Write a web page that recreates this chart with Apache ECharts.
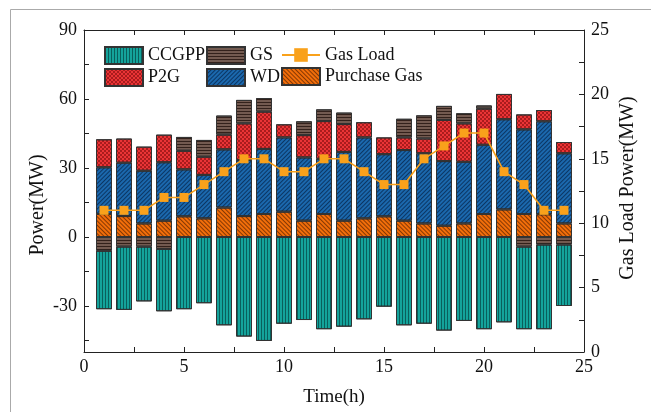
<!DOCTYPE html>
<html>
<head>
<meta charset="utf-8">
<script src="https://cdn.jsdelivr.net/npm/echarts@6/dist/echarts.min.js"></script>
<style>html,body{margin:0;padding:0;background:#fff}#c{width:651px;height:412px}</style>
</head>
<body>
<div id="c"></div>
<script>
const hours = [1,2,3,4,5,6,7,8,9,10,11,12,13,14,15,16,17,18,19,20,21,22,23,24];
const purchaseGas = [10,9.1,5.9,7.1,9,8.1,12.8,9.1,10,11,7.1,10,7.1,8.1,9,7.1,5.9,4.9,5.9,10,12,10,9.9,5.9];
const wd = [20.3,23.2,22.9,25.4,20.4,18.9,25.3,24.4,28.3,32.3,27.5,24.0,29.9,35.2,27.0,30.7,30.5,28.1,26.8,30.1,39.2,36.8,40.4,30.5];
const p2g = [12.2,10.5,10.5,12.0,8.1,7.9,6.4,15.9,16.2,5.7,9.7,16.4,12.1,6.6,7.3,5.5,6.4,17.9,16.7,15.7,11.0,6.5,4.9,4.9];
const gs = [-6,-4.2,-4.2,-5.2,6.0,7.3,8.3,10.2,5.9,0,6.0,5.1,5.0,0,0,8.1,10.1,6.1,4.4,1.4,0,-4.2,-3.3,-3.3];
const ccgpp = [-25.4,-27.5,-23.8,-27.1,-31.4,-28.8,-38.4,-43.3,-45.2,-37.7,-36.1,-40.1,-39.0,-35.8,-30.3,-38.4,-37.7,-40.7,-36.5,-40.1,-37.1,-35.9,-36.8,-26.7];
const gasLoad = [11,11,11,12,12,13,14,15,15,14,14,15,15,14,13,13,15,16,17,17,14,13,11,11];
const xLabels = [0,5,10,15,20,25];
const xTicks = [0,2.5,5,7.5,10,12.5,15,17.5,20,22.5,25];
const yLabels = [-30,0,30,60,90];
const yTicks = [-45,-30,-15,0,15,30,45,60,75,90];
const y2Ticks = [0,2.5,5,7.5,10,12.5,15,17.5,20,22.5,25];

const FONT = "Liberation Serif";
// category slots 0..25 so each hour sits on its tick of the value axis
const slots = [0].concat(hours, [25]).map(String);
const pad = arr => [null].concat(arr, [null]);
const gsPos = gs.map(v => v > 0 ? v : null);
const gsNeg = gs.map(v => v < 0 ? v : null);

const border = {borderColor:'#333', borderWidth:1};
const decals = {
  ccgpp: {symbol:'rect', symbolSize:1, dashArrayX:[1,2], dashArrayY:[4,0], color:'rgba(0,40,40,0.55)'},
  gs: {symbol:'rect', symbolSize:1, dashArrayX:[4,0], dashArrayY:[1,2], color:'rgba(30,15,10,0.75)'},
  p2g: {symbol:'rect', symbolSize:1, dashArrayX:[[2,2],[0,2,2,0]], dashArrayY:[2,0], color:'rgba(90,0,0,0.45)'},
  wd: {symbol:'rect', symbolSize:1, dashArrayX:[4,0], dashArrayY:[1,2], rotation:-Math.PI/4, color:'rgba(0,20,50,0.6)'},
  pg: {symbol:'rect', symbolSize:1, dashArrayX:[4,0], dashArrayY:[1,2], rotation:Math.PI/4, color:'rgba(60,20,0,0.6)'}
};
function bar(name, data, color, decal){
  return {name, type:'bar', stack:'p', barWidth:16, xAxisIndex:2, data:pad(data),
    itemStyle:Object.assign({color, decal}, border)};
}
const chart = echarts.init(document.getElementById('c'));
const tickStyle = {show:true, inside:true, length:5, lineStyle:{color:'#222', width:1}};
const axisLineStyle = {show:true, onZero:false, lineStyle:{color:'#222', width:1}};
const labelStyle = {color:'#111', fontFamily:FONT, fontSize:18};
const legendText = {fontFamily:FONT, fontSize:18, color:'#111'};
chart.setOption({
  animation:false,
  grid:{left:84, right:67, top:30, bottom:60},
  legend:[
    {left:99, top:41, orient:'vertical', itemWidth:38, itemHeight:17, itemGap:3, data:[{name:'CCGPP',icon:'rect'},{name:'P2G',icon:'rect'}], textStyle:legendText},
    {left:201, top:41, orient:'vertical', itemWidth:38, itemHeight:17, itemGap:3, data:[{name:'GS',icon:'rect'},{name:'WD',icon:'rect'}], textStyle:legendText},
    {left:276, top:41, orient:'vertical', itemWidth:38, itemHeight:17, itemGap:3, data:['Gas Load',{name:'Purchase Gas',icon:'rect'}], textStyle:legendText}
  ],
  xAxis:[
    {type:'value', min:0, max:25, position:'bottom', axisLine:axisLineStyle,
     axisTick:Object.assign({customValues:xTicks}, tickStyle),
     axisLabel:Object.assign({customValues:xLabels, margin:6}, labelStyle),
     splitLine:{show:false},
     name:'Time(h)', nameLocation:'middle', nameGap:36, nameTextStyle:{fontFamily:FONT, fontSize:19, color:'#111'}},
    {type:'value', min:0, max:25, position:'top', axisLine:axisLineStyle,
     axisTick:Object.assign({customValues:xTicks}, tickStyle),
     axisLabel:{show:false}, splitLine:{show:false}},
    {type:'category', data:slots, boundaryGap:false, show:false}
  ],
  yAxis:[
    {type:'value', min:-50, max:90, position:'left', axisLine:axisLineStyle,
     axisTick:Object.assign({customValues:yTicks}, tickStyle),
     axisLabel:Object.assign({customValues:yLabels, margin:7}, labelStyle),
     splitLine:{show:false}},
    {type:'value', min:0, max:25, interval:5, position:'right', axisLine:axisLineStyle,
     axisTick:Object.assign({customValues:y2Ticks}, tickStyle),
     axisLabel:Object.assign({margin:7}, labelStyle),
     splitLine:{show:false}}
  ],
  graphic:[
    {type:'rect', left:8, top:7, shape:{width:700, height:500}, style:{fill:'none', stroke:'#aaa', lineWidth:1}, silent:true, z:-10},
    {type:'text', x:38, y:205, rotation:Math.PI/2, style:{text:'Power(MW)', fontFamily:FONT, fontSize:20, fill:'#111', align:'center', verticalAlign:'middle'}},
    {type:'text', x:628, y:188, rotation:Math.PI/2, style:{text:'Gas Load Power(MW)', fontFamily:FONT, fontSize:20, fill:'#111', align:'center', verticalAlign:'middle'}}
  ],
  series:[
    bar('GS', gsNeg, '#735a50', decals.gs),
    bar('CCGPP', ccgpp, '#14a39b', decals.ccgpp),
    bar('Purchase Gas', purchaseGas, '#f26e0a', decals.pg),
    bar('WD', wd, '#1b68ad', decals.wd),
    bar('P2G', p2g, '#ea3436', decals.p2g),
    bar('GS', gsPos, '#735a50', decals.gs),
    {name:'Gas Load', type:'line', xAxisIndex:2, yAxisIndex:1, data:pad(gasLoad), symbol:'rect', symbolSize:9,
     itemStyle:{color:'#f9a11b'}, lineStyle:{color:'#f9a11b', width:1.6}, z:5}
  ]
});
</script>
</body>
</html>
